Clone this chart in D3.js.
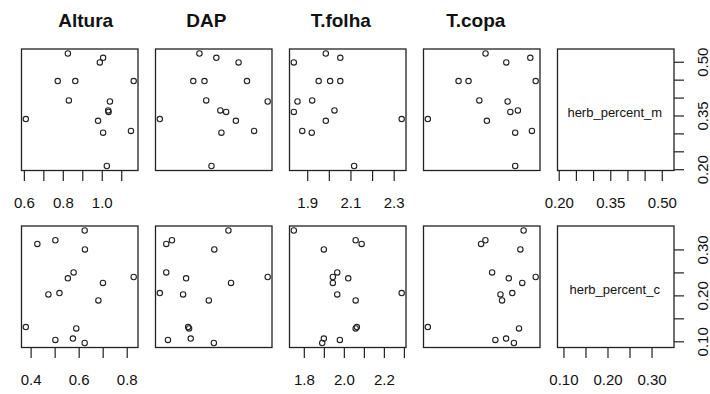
<!DOCTYPE html>
<html>
<head>
<meta charset="utf-8">
<script src="https://cdn.jsdelivr.net/npm/d3@7"></script>
<style>
  body { margin: 0; background: #fff; }
  svg { display: block; font-family: "Liberation Sans", Arial, sans-serif; }
</style>
</head>
<body>
<div id="chart"></div>
<script>
// Column titles and diagonal labels
const titles = ["Altura", "DAP", "T.folha", "T.copa"];
const diagLabels = ["herb_percent_m", "herb_percent_c"];

// Row 1 data (herb_percent_m)
const herbM   = [0.523, 0.511, 0.498, 0.446, 0.446, 0.446, 0.392, 0.389, 0.364, 0.360, 0.335, 0.302, 0.307, 0.340, 0.209];
const alturaM = [0.826, 1.007, 0.990, 0.774, 0.864, 1.164, 0.831, 1.042, 1.033, 1.035, 0.981, 1.007, 1.150, 0.610, 1.026];
const dapM    = [8.67, 10.24, 12.30, 8.10, 9.14, 13.08, 9.30, 15.00, 10.61, 11.15, 12.05, 10.71, 13.74, 5.00, 9.79];
const tfolhaM = [1.986, 2.053, 1.838, 1.953, 2.006, 2.053, 1.923, 1.855, 2.026, 1.838, 1.986, 1.921, 1.877, 2.337, 2.117];
const tcopaM  = [4.14, 5.80, 4.91, 3.14, 3.51, 6.00, 3.91, 4.96, 5.34, 5.06, 4.19, 5.24, 5.86, 2.00, 5.24];

// Row 2 data (herb_percent_c)
const herbC   = [0.3412, 0.312, 0.320, 0.300, 0.250, 0.237, 0.227, 0.240, 0.202, 0.205, 0.189, 0.131, 0.128, 0.103, 0.106, 0.0963];
const alturaC = [0.625, 0.428, 0.503, 0.626, 0.579, 0.555, 0.701, 0.829, 0.474, 0.520, 0.682, 0.380, 0.590, 0.503, 0.576, 0.625];
const dapC    = [11.34, 5.54, 6.07, 10.02, 5.54, 7.39, 11.58, 15.00, 7.11, 4.94, 9.51, 7.58, 7.67, 5.70, 7.82, 9.98];
const tfolhaC = [1.750, 2.089, 2.059, 1.900, 1.967, 2.022, 1.945, 1.945, 1.967, 2.289, 2.059, 2.065, 2.059, 1.980, 1.900, 1.892];
const tcopaC  = [5.56, 3.98, 4.14, 5.44, 4.39, 5.01, 5.51, 6.01, 4.70, 5.14, 4.76, 2.00, 5.39, 4.51, 4.91, 5.20];

// Tick values and their labels ("" = tick without label, as R drops overlapping ones)
const ticksAlturaM = [0.6, 0.7, 0.8, 0.9, 1.0, 1.1];
const labelsAlturaM = ["0.6", "", "0.8", "", "1.0", ""];
const ticksTfolhaM = [1.9, 2.0, 2.1, 2.2, 2.3];
const labelsTfolhaM = ["1.9", "", "2.1", "", "2.3"];
const ticksHerbM = [0.20, 0.25, 0.30, 0.35, 0.40, 0.45, 0.50];
const labelsHerbM = ["0.20", "", "", "0.35", "", "", "0.50"];
const ticksAlturaC = [0.4, 0.5, 0.6, 0.7, 0.8];
const labelsAlturaC = ["0.4", "", "0.6", "", "0.8"];
const ticksTfolhaC = [1.8, 1.9, 2.0, 2.1, 2.2, 2.3];
const labelsTfolhaC = ["1.8", "", "2.0", "", "2.2", ""];
const ticksHerbC = [0.10, 0.15, 0.20, 0.25, 0.30];
const labelsHerbC = ["0.10", "", "0.20", "", "0.30"];

const width = 710, height = 394;
const panelW = 116.5, panelH = 121.5, pitchX = 134;
const left0 = 21.5;
const rowTops = [49, 226];
const titleShift = [6, -7.5, -7, -6]; // titles sit a bit off the panel centres

// R default: data range extended by 4% on each side
function rRange(v) {
    const [a, b] = d3.extent(v);
    const p = (b - a) * 0.04;
    return [a - p, b + p];
}

const rows = [
    { y: herbM, xs: [alturaM, dapM, tfolhaM, tcopaM, herbM],
      bottom: [[ticksAlturaM, labelsAlturaM], null, [ticksTfolhaM, labelsTfolhaM], null, [ticksHerbM, labelsHerbM]],
      right: [ticksHerbM, labelsHerbM] },
    { y: herbC, xs: [alturaC, dapC, tfolhaC, tcopaC, herbC],
      bottom: [[ticksAlturaC, labelsAlturaC], null, [ticksTfolhaC, labelsTfolhaC], null, [ticksHerbC, labelsHerbC]],
      right: [ticksHerbC, labelsHerbC] }
];

const svg = d3.select("#chart").append("svg")
    .attr("width", width)
    .attr("height", height);

svg.append("rect").attr("width", width).attr("height", height).attr("fill", "#fff");

// Column titles
titles.forEach((t, i) => {
    svg.append("text")
        .attr("x", left0 + i * pitchX + panelW / 2 + titleShift[i])
        .attr("y", 26.7)
        .attr("text-anchor", "middle")
        .attr("font-size", 19)
        .attr("font-weight", "bold")
        .attr("fill", "#111")
        .text(t);
});

rows.forEach((row, r) => {
    const top = rowTops[r];
    const yScale = d3.scaleLinear().domain(rRange(row.y)).range([top + panelH, top]);

    row.xs.forEach((xv, c) => {
        const x0 = left0 + c * pitchX;
        const xScale = d3.scaleLinear().domain(rRange(xv)).range([x0, x0 + panelW]);
        const g = svg.append("g");

        if (c < 4) {
            g.selectAll("circle")
                .data(row.y)
                .join("circle")
                .attr("cx", (d, i) => xScale(xv[i]))
                .attr("cy", d => yScale(d))
                .attr("r", 2.7)
                .attr("fill", "none")
                .attr("stroke", "#222")
                .attr("stroke-width", 1.1);
        } else {
            g.append("text")
                .attr("x", x0 + panelW / 2 - 1)
                .attr("y", top + panelH / 2 + 7)
                .attr("text-anchor", "middle")
                .attr("font-size", 13)
                .attr("fill", "#111")
                .text(diagLabels[r]);
        }

        const b = row.bottom[c];
        if (b) {
            const axis = d3.axisBottom(xScale)
                .tickValues(b[0])
                .tickSize(10.5)
                .tickPadding(16)
                .tickFormat((d, i) => b[1][i]);
            const ag = g.append("g")
                .attr("transform", `translate(0,${top + panelH})`)
                .call(axis);
            ag.select(".domain").remove();
            ag.selectAll("line").attr("stroke", "#222").attr("stroke-width", 1.2);
            ag.selectAll("text").attr("font-size", 15).attr("fill", "#111")
                .attr("font-family", "'Liberation Sans', Arial, sans-serif");
        }

        if (c === 4) {
            const axisR = d3.axisRight(yScale)
                .tickValues(row.right[0])
                .tickSize(10)
                .tickFormat((d, i) => row.right[1][i]);
            const rg = g.append("g")
                .attr("transform", `translate(${x0 + panelW},0)`)
                .call(axisR);
            rg.select(".domain").remove();
            rg.selectAll("line").attr("stroke", "#222").attr("stroke-width", 1.2);
            rg.selectAll("text")
                .attr("x", null)
                .attr("dy", null)
                .attr("text-anchor", "middle")
                .attr("transform", "translate(33.5,0) rotate(-90)")
                .attr("font-size", 15)
                .attr("fill", "#111")
                .attr("font-family", "'Liberation Sans', Arial, sans-serif");
        }

        // panel box
        g.append("rect")
            .attr("x", x0)
            .attr("y", top)
            .attr("width", panelW)
            .attr("height", panelH)
            .attr("fill", "none")
            .attr("stroke", "#222")
            .attr("stroke-width", 1.3);
    });
});
</script>
</body>
</html>
